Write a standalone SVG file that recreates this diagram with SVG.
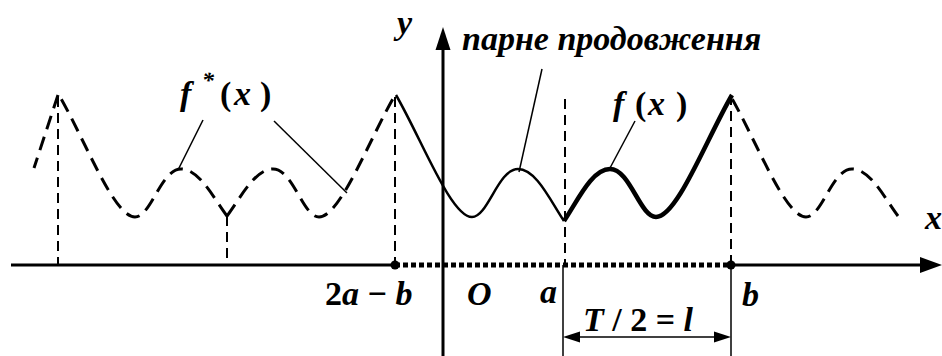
<svg xmlns="http://www.w3.org/2000/svg" width="942" height="356" viewBox="0 0 942 356">
<g id="axes" stroke="#000" fill="none">
<line stroke-width="3" x1="11" y1="265" x2="395" y2="265"/>
<line stroke-width="3" x1="731" y1="265" x2="922" y2="265"/>
<line x1="395" y1="265" x2="731" y2="265" stroke-width="5" stroke-dasharray="5 3"/>
<polygon points="942,265 920,257 920,273" fill="#000" stroke="none"/>
<line stroke-width="3" x1="443" y1="356" x2="443" y2="48"/>
<polygon points="443,27 435.5,50 450.5,50" fill="#000" stroke="none"/>
<circle cx="395" cy="265" r="4.5" fill="#000" stroke="none"/>
<circle cx="731" cy="265" r="4.5" fill="#000" stroke="none"/>
</g>
<g id="verticals" stroke="#000" fill="none" stroke-width="2" stroke-dasharray="10 6">
<line x1="58" y1="97" x2="58" y2="265"/>
<line x1="227" y1="216" x2="227" y2="265"/>
<line x1="395" y1="97" x2="395" y2="265"/>
<line x1="565" y1="99" x2="565" y2="265"/>
<line x1="731" y1="95" x2="731" y2="265"/>
</g>
<g id="boundaries" stroke="#000" stroke-width="1.5">
<line x1="563" y1="265" x2="563" y2="356"/>
<line x1="731" y1="265" x2="731" y2="356"/>
</g>
<g id="curves" stroke="#000" fill="none">
<path stroke-width="4.5" d="M 564 221 C 578 200, 592 169, 610 169 C 630 169, 640 217, 656 217 C 677 217, 706 140, 732 95"/>
<path stroke-width="2.5" d="M 564 221 C 550 200, 536 169, 518 169 C 498 169, 488 217, 472 217 C 451 217, 422 140, 396 95"/>
<g stroke-width="3" stroke-dasharray="14 8">
<path d="M 227 216 C 241 197, 255 169, 273 169 C 293 169, 303 217, 319 217 C 340 217, 369 140, 395 95"/>
<path d="M 227 216 C 213 197, 199 169, 181 169 C 161 169, 151 217, 135 217 C 114 217, 85 140, 59 95"/>
<path d="M 898 216 C 884 197, 870 169, 852 169 C 832 169, 822 217, 806 217 C 785 217, 756 140, 730 95"/>
<line x1="58" y1="95" x2="34" y2="168"/>
</g>
</g>
<g id="connectors" stroke="#000" stroke-width="1.5" fill="none">
<line x1="203" y1="120" x2="178" y2="170"/>
<line x1="274" y1="121" x2="347" y2="193"/>
<line x1="542" y1="69" x2="519" y2="172"/>
<line x1="635" y1="121" x2="610" y2="168"/>
<line x1="578" y1="337" x2="716" y2="337"/>
<polygon points="563,337 580,331.5 580,342.5" fill="#000" stroke="none"/>
<polygon points="731,337 714,331.5 714,342.5" fill="#000" stroke="none"/>
</g>
<text x="397" y="34" style="font-family:'Liberation Serif',serif;font-size:34px;font-weight:bold;font-style:italic">y</text>
<text x="462" y="50" style="font-family:'Liberation Serif',serif;font-size:34px;font-weight:bold;font-style:italic">парне продовження</text>
<text x="180" y="105" style="font-family:'Liberation Serif',serif;font-size:34px;font-weight:bold;font-style:italic">f</text>
<text x="202" y="88" style="font-family:'Liberation Serif',serif;font-size:24px;font-weight:bold;font-style:italic">*</text>
<text x="220" y="105" style="font-family:'Liberation Serif',serif;font-size:34px;font-weight:bold">(</text>
<text x="234" y="105" style="font-family:'Liberation Serif',serif;font-size:34px;font-weight:bold;font-style:italic">x</text>
<text x="260" y="105" style="font-family:'Liberation Serif',serif;font-size:34px;font-weight:bold">)</text>
<text x="613" y="115" style="font-family:'Liberation Serif',serif;font-size:34px;font-weight:bold;font-style:italic">f</text>
<text x="635" y="115" style="font-family:'Liberation Serif',serif;font-size:34px;font-weight:bold">(</text>
<text x="648" y="115" style="font-family:'Liberation Serif',serif;font-size:34px;font-weight:bold;font-style:italic">x</text>
<text x="676" y="115" style="font-family:'Liberation Serif',serif;font-size:34px;font-weight:bold">)</text>
<text x="925" y="229" style="font-family:'Liberation Serif',serif;font-size:34px;font-weight:bold;font-style:italic">x</text>
<text x="325" y="305" style="font-family:'Liberation Serif',serif;font-size:34px;font-weight:bold;font-style:italic"><tspan style="font-style:normal">2</tspan>a<tspan style="font-style:normal"> − </tspan>b</text>
<text x="467" y="305" style="font-family:'Liberation Serif',serif;font-size:34px;font-weight:bold;font-style:italic">O</text>
<text x="540" y="303" style="font-family:'Liberation Serif',serif;font-size:34px;font-weight:bold;font-style:italic">a</text>
<text x="742" y="306" style="font-family:'Liberation Serif',serif;font-size:34px;font-weight:bold;font-style:italic">b</text>
<text x="583" y="331" style="font-family:'Liberation Serif',serif;font-size:34px;font-weight:bold;font-style:italic">T<tspan style="font-style:normal"> / 2 = </tspan>l</text>
</svg>
